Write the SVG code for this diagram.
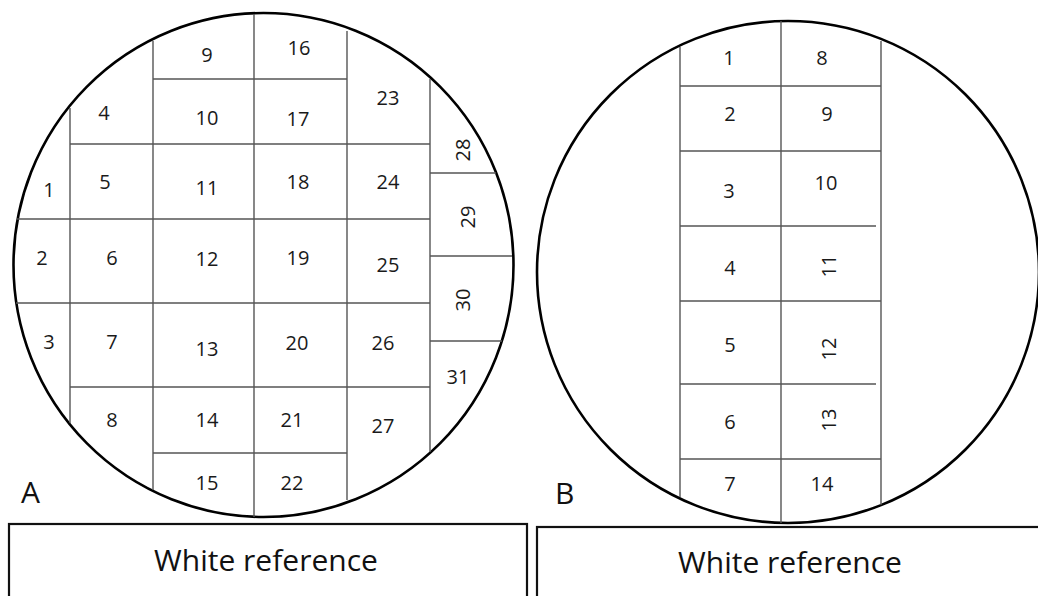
<svg xmlns="http://www.w3.org/2000/svg" width="1038" height="596" viewBox="0 0 1038 596">
<style>
.bg{fill:#fff}
.circ{fill:none;stroke:#000;stroke-width:2.6}
.grid line{stroke:#555;stroke-width:1.4}
.box{fill:none;stroke:#111;stroke-width:2.2}
.lbl{font-family:"Open Sans","Liberation Sans",sans-serif;font-size:20px;fill:#1a1a1a;text-anchor:middle}
.big{font-family:"Open Sans","Liberation Sans",sans-serif;font-size:30px;fill:#111}
.wr{font-family:"Open Sans","Liberation Sans",sans-serif;font-size:30px;fill:#111;text-anchor:middle}
</style>
<rect class="bg" x="0" y="0" width="1038" height="596"/>

<g id="wafer-A">
<ellipse class="circ" cx="263.5" cy="265" rx="250" ry="252"/>
<g class="grid">
<line x1="70" y1="108" x2="70" y2="423"/>
<line x1="153" y1="41" x2="153" y2="490"/>
<line x1="254" y1="14" x2="254" y2="517"/>
<line x1="347" y1="31" x2="347" y2="500"/>
<line x1="430" y1="79" x2="430" y2="452"/>
<line x1="153" y1="79" x2="347" y2="79"/>
<line x1="70" y1="144" x2="430" y2="144"/>
<line x1="17" y1="219" x2="430" y2="219"/>
<line x1="16" y1="303" x2="430" y2="303"/>
<line x1="70" y1="387" x2="430" y2="387"/>
<line x1="153" y1="453" x2="347" y2="453"/>
<line x1="430" y1="173" x2="496" y2="173"/>
<line x1="430" y1="256" x2="512" y2="256"/>
<line x1="430" y1="341" x2="502" y2="341"/>
</g>
<g id="A-cells">
<text class="lbl" x="49" y="197">1</text>
<text class="lbl" x="42" y="265">2</text>
<text class="lbl" x="49" y="349">3</text>
<text class="lbl" x="104" y="120">4</text>
<text class="lbl" x="105" y="189">5</text>
<text class="lbl" x="112" y="265">6</text>
<text class="lbl" x="112" y="349">7</text>
<text class="lbl" x="112" y="427">8</text>
<text class="lbl" x="207" y="62">9</text>
<text class="lbl" x="207" y="125">10</text>
<text class="lbl" x="207" y="195">11</text>
<text class="lbl" x="207" y="266">12</text>
<text class="lbl" x="207" y="356">13</text>
<text class="lbl" x="207" y="427">14</text>
<text class="lbl" x="207" y="490">15</text>
<text class="lbl" x="299" y="55">16</text>
<text class="lbl" x="298" y="126">17</text>
<text class="lbl" x="298" y="189">18</text>
<text class="lbl" x="298" y="265">19</text>
<text class="lbl" x="297" y="350">20</text>
<text class="lbl" x="292" y="427">21</text>
<text class="lbl" x="292" y="490">22</text>
<text class="lbl" x="388" y="105">23</text>
<text class="lbl" x="388" y="189">24</text>
<text class="lbl" x="388" y="272">25</text>
<text class="lbl" x="383" y="350">26</text>
<text class="lbl" x="383" y="433">27</text>
<text class="lbl" transform="translate(463,150) rotate(-90)" x="0" y="7">28</text>
<text class="lbl" transform="translate(468,217) rotate(-90)" x="0" y="7">29</text>
<text class="lbl" transform="translate(463,300) rotate(-90)" x="0" y="7">30</text>
<text class="lbl" x="458" y="384">31</text>
</g>
<text class="big" x="21" y="503">A</text>
</g>

<g id="wafer-B">
<ellipse class="circ" cx="788" cy="272" rx="251" ry="251"/>
<g class="grid">
<line x1="680" y1="47" x2="680" y2="497"/>
<line x1="781" y1="21" x2="781" y2="523"/>
<line x1="881" y1="41" x2="881" y2="505"/>
<line x1="680" y1="86" x2="881" y2="86"/>
<line x1="680" y1="151" x2="881" y2="151"/>
<line x1="680" y1="226" x2="876" y2="226"/>
<line x1="680" y1="301" x2="881" y2="301"/>
<line x1="680" y1="384" x2="876" y2="384"/>
<line x1="680" y1="459" x2="881" y2="459"/>
</g>
<g id="B-cells">
<text class="lbl" x="729" y="65">1</text>
<text class="lbl" x="730" y="121">2</text>
<text class="lbl" x="729" y="198">3</text>
<text class="lbl" x="730" y="275">4</text>
<text class="lbl" x="730" y="352">5</text>
<text class="lbl" x="730" y="429">6</text>
<text class="lbl" x="730" y="491">7</text>
<text class="lbl" x="822" y="65">8</text>
<text class="lbl" x="827" y="121">9</text>
<text class="lbl" x="826" y="190">10</text>
<text class="lbl" transform="translate(829,266) rotate(-90)" x="0" y="7">11</text>
<text class="lbl" transform="translate(829,349) rotate(-90)" x="0" y="7">12</text>
<text class="lbl" transform="translate(829,420) rotate(-90)" x="0" y="7">13</text>
<text class="lbl" x="822" y="491">14</text>
</g>
<text class="big" x="555" y="504">B</text>
</g>

<g id="white-ref-A">
<rect class="box" x="9" y="524" width="518" height="100"/>
<text class="wr" x="266" y="571">White reference</text>
</g>
<g id="white-ref-B">
<rect class="box" x="537" y="527" width="520" height="100"/>
<text class="wr" x="790" y="573">White reference</text>
</g>
<g id="connectors"></g>
</svg>
